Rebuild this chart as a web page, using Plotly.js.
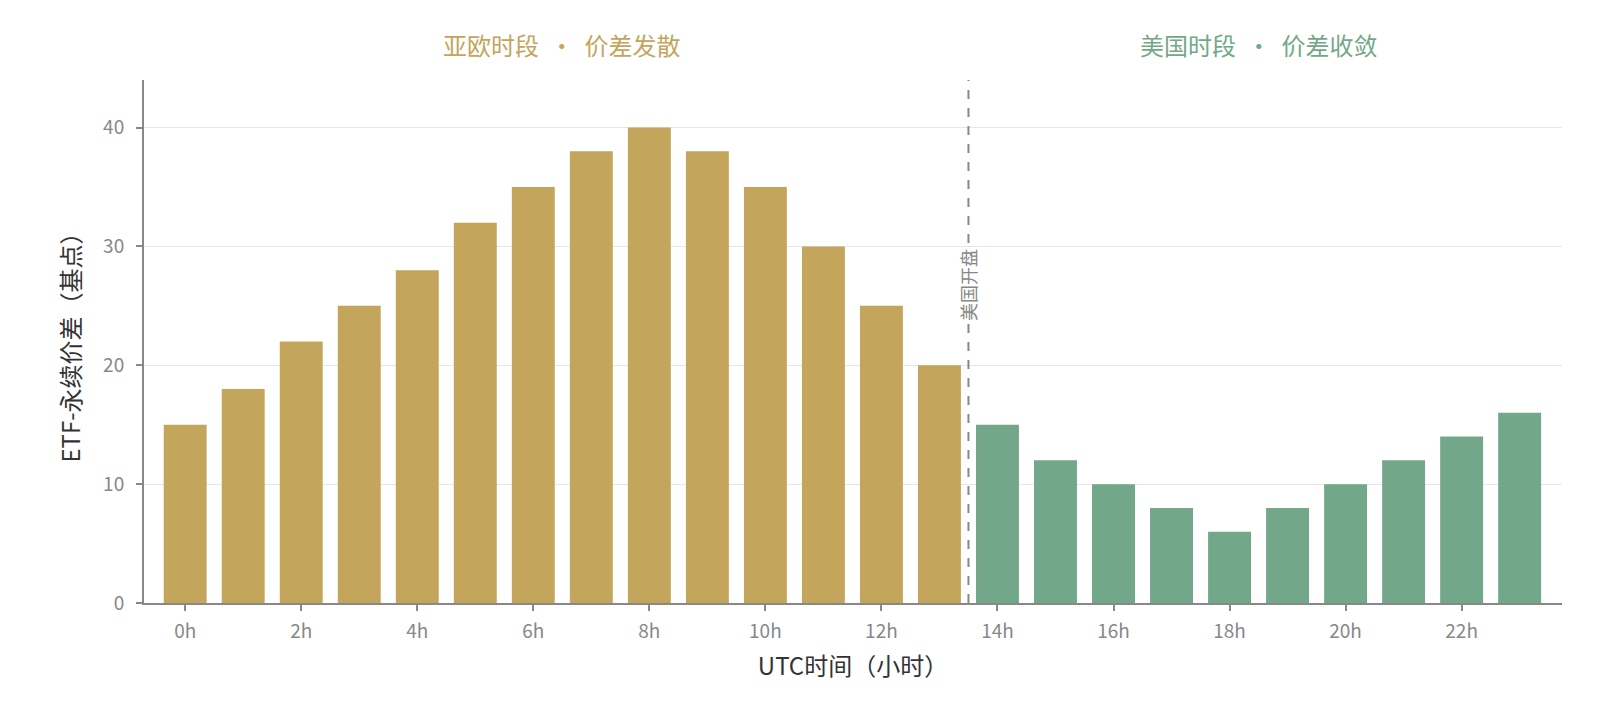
<!DOCTYPE html>
<html>
<head>
<meta charset="utf-8">
<script src="https://cdn.plot.ly/plotly-3.0.1.min.js"></script>
<style>
  html, body { margin: 0; padding: 0; background: #fff; }
  #chart { width: 1600px; height: 727px; }
</style>
</head>
<body>
<div id="chart"></div>
<script>
// hours 0..23, spread in basis points
var asiaHours = [0, 1, 2, 3, 4, 5, 6, 7, 8, 9, 10, 11, 12, 13]
var asiaSpread = [15, 18, 22, 25, 28, 32, 35, 38, 40, 38, 35, 30, 25, 20]
var usHours = [14, 15, 16, 17, 18, 19, 20, 21, 22, 23]
var usSpread = [15, 12, 10, 8, 6, 8, 10, 12, 14, 16]
var tickHours = [0, 2, 4, 6, 8, 10, 12, 14, 16, 18, 20, 22]
var tickLabels = tickHours.map(function (h) { return h + "h" })

var usOpen = 13.5
var font = "'Noto Sans CJK SC', 'Noto Sans', sans-serif"
var gold = "#C4A55C"
var green = "#72A889"

var data = [
    {
        type: 'bar',
        x: asiaHours,
        y: asiaSpread,
        width: 0.74,
        marker: { color: gold },
        hoverinfo: 'x+y',
    },
    {
        type: 'bar',
        x: usHours,
        y: usSpread,
        width: 0.74,
        marker: { color: green },
        hoverinfo: 'x+y',
    },
]

var layout = {
    width: 1600,
    height: 727,
    paper_bgcolor: '#fff',
    plot_bgcolor: '#fff',
    showlegend: false,
    margin: { l: 144, r: 38, t: 80, b: 124 },
    font: { family: font, color: "#333" },
    xaxis: {
        range: [-0.71, 23.73],
        tickvals: tickHours,
        ticktext: tickLabels,
        ticks: 'outside',
        ticklen: 6,
        tickwidth: 2,
        tickcolor: '#888',
        ticklabelstandoff: 4,
        showline: true,
        linecolor: '#888',
        linewidth: 2,
        showgrid: false,
        zeroline: false,
        tickfont: { size: 19, color: '#888' },
        title: { text: 'UTC时间（小时）', font: { size: 24, color: '#333' }, standoff: 16 },
        fixedrange: true,
    },
    yaxis: {
        range: [0, 44],
        tickvals: [0, 10, 20, 30, 40],
        ticks: 'outside',
        ticklen: 6,
        tickwidth: 2,
        tickcolor: '#888',
        ticklabelstandoff: 8,
        showline: true,
        linecolor: '#888',
        linewidth: 2,
        gridcolor: '#e6e6e6',
        gridwidth: 1,
        zeroline: false,
        tickfont: { size: 19, color: '#888' },
        title: { text: 'ETF-永续价差（基点）', font: { size: 24, color: '#333' }, standoff: 16 },
        fixedrange: true,
    },
    shapes: [
        {
            type: 'line',
            xref: 'x', yref: 'paper',
            x0: usOpen, x1: usOpen, y0: 0, y1: 1,
            line: { color: '#888', width: 2, dash: 'dash' },
        },
    ],
    annotations: [
        {
            x: 6.5, xref: 'x',
            y: 1.067, yref: 'paper', yanchor: 'middle',
            text: '亚欧时段  ·  价差发散',
            showarrow: false,
            font: { size: 24, color: gold },
        },
        {
            x: 18.5, xref: 'x',
            y: 1.067, yref: 'paper', yanchor: 'middle',
            text: '美国时段  ·  价差收敛',
            showarrow: false,
            font: { size: 24, color: green },
        },
        {
            x: usOpen, xref: 'x',
            y: 26.8, yref: 'y',
            text: '美国开盘',
            textangle: -90,
            showarrow: false,
            bgcolor: '#fff',
            font: { size: 18, color: '#888' },
        },
    ],
}

var config = {
    displayModeBar: false,
    staticPlot: true,
}

Plotly.newPlot('chart', data, layout, config)
</script>
</body>
</html>
